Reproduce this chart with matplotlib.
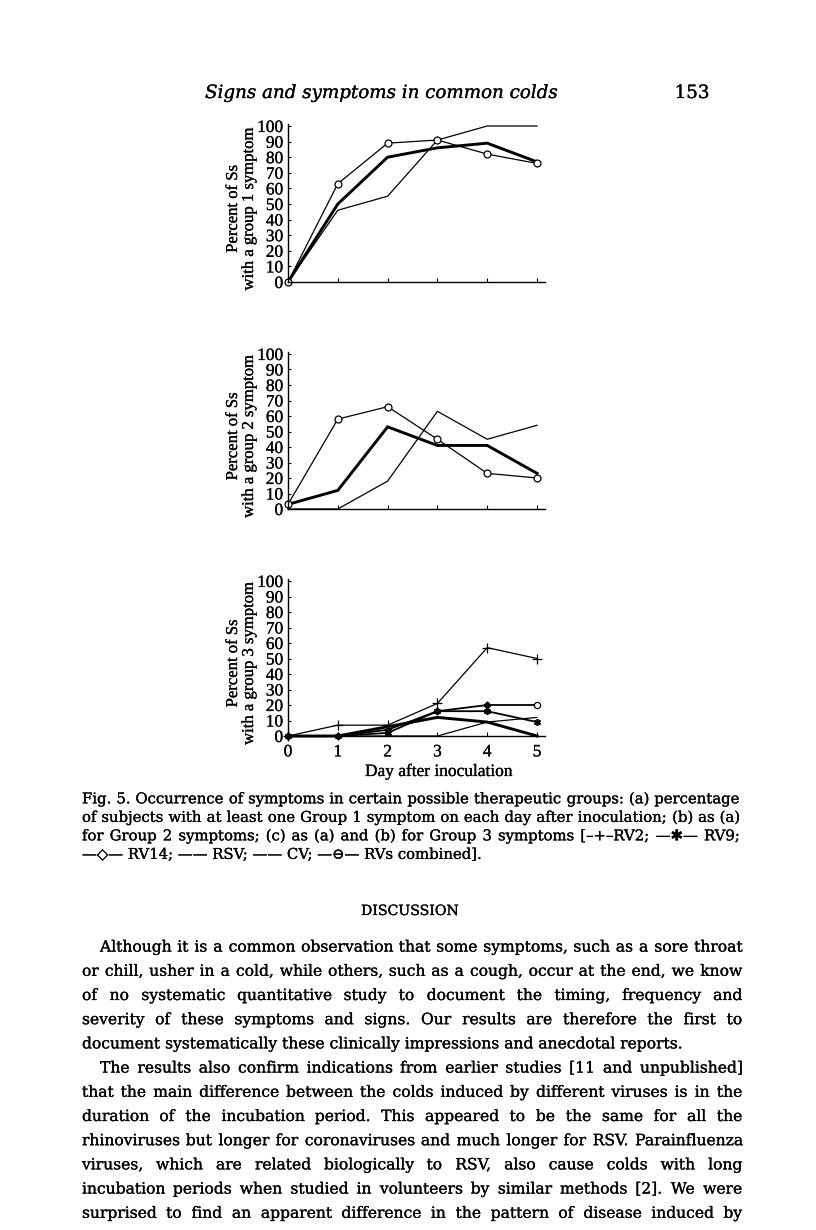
import matplotlib
matplotlib.use('Agg')
import matplotlib.pyplot as plt
import matplotlib.patheffects as pe

W, H, DPI = 816, 1230, 100
FAM = ['Liberation Serif', 'DejaVu Sans']
TFAM = ['DejaVu Serif', 'DejaVu Sans']
INK = [pe.withStroke(linewidth=0.18, foreground='black')]

# ---------------- data ----------------
days = [0, 1, 2, 3, 4, 5]
day_labels = ['0', '1', '2', '3', '4', '5']
y_ticks = [0, 10, 20, 30, 40, 50, 60, 70, 80, 90, 100]

g1_rvs = [0, 63, 89, 91, 82, 76]
g1_cv = [0, 50, 80, 86, 89, 77]
g1_rsv = [0, 46, 55, 91, 100, 100]

g2_rvs = [3, 58, 66, 45, 23, 20]
g2_cv = [3, 12, 53, 41, 41, 23]
g2_rsv = [0, 0, 18, 63, 45, 54]

g3_rv2 = [0, 7, 7, 21, 57, 50]
g3_rv9 = [0, 0, 2, 16, 16, 9]
g3_rv14 = [0, 0, 4, 16, 20, 20]
g3_rsv = [0, 0, 0, 0, 9, 12]
g3_cv = [0, 0, 6, 12, 9, 0]

ylabels = ['Percent of Ss\nwith a group 1 symptom',
           'Percent of Ss\nwith a group 2 symptom',
           'Percent of Ss\nwith a group 3 symptom']
xlabel = 'Day after inoculation'

header = 'Signs and symptoms in common colds'
page_no = '153'

caption = [
    'Fig. 5.  Occurrence of symptoms in certain possible therapeutic groups: (a) percentage',
    'of subjects with at least one Group 1 symptom on each day after inoculation; (b) as (a)',
    'for Group 2 symptoms; (c) as (a) and (b) for Group 3 symptoms [\u2013+\u2013RV2; \u2014\u2731\u2014 RV9;',
    '\u2014\u25c7\u2014 RV14; \u2014\u2014 RSV; \u2014\u2014 CV; \u2014\u2296\u2014 RVs combined].',
]
section = 'DISCUSSION'
body = [
    'Although it is a common observation that some symptoms, such as a sore throat',
    'or chill, usher in a cold, while others, such as a cough, occur at the end, we know',
    'of no systematic quantitative study to document the timing, frequency and',
    'severity of these symptoms and signs. Our results are therefore the first to',
    'document systematically these clinically impressions and anecdotal reports.',
    'The results also confirm indications from earlier studies [11 and unpublished]',
    'that the main difference between the colds induced by different viruses is in the',
    'duration of the incubation period. This appeared to be the same for all the',
    'rhinoviruses but longer for coronaviruses and much longer for RSV. Parainfluenza',
    'viruses, which are related biologically to RSV, also cause colds with long',
    'incubation periods when studied in volunteers by similar methods [2]. We were',
    'surprised to find an apparent difference in the pattern of disease induced by',
]
body_indent = [True, False, False, False, False, True, False, False, False, False, False, False]
body_just = [True, True, True, True, False, True, True, True, True, True, True, True]

# ---------------- figure ----------------
fig = plt.figure(figsize=(W / DPI, H / DPI), dpi=DPI)
fig.patch.set_facecolor('white')

XL, XR = 288, 545
XMAX = 5.16
YTOP = 101.5


def make_axes(y0, y100):
    top = y0 - (y0 - y100) * YTOP / 100.0
    ax = fig.add_axes([XL / W, 1 - y0 / H, (XR - XL) / W, (y0 - top) / H])
    ax.set_xlim(0, XMAX)
    ax.set_ylim(0, YTOP)
    for s in ['top', 'right']:
        ax.spines[s].set_visible(False)
    for s in ['left', 'bottom']:
        ax.spines[s].set_linewidth(1.0)
    ax.set_xticks(days)
    ax.set_yticks(y_ticks)
    ax.set_yticklabels([str(v) for v in y_ticks])
    ax.tick_params(axis='x', direction='in', length=3, width=0.8, pad=6)
    ax.tick_params(axis='y', direction='in', length=2, width=0.8, pad=3.5)
    for lab in ax.get_yticklabels() + ax.get_xticklabels():
        lab.set_family(FAM)
        lab.set_fontsize(12.5)
        lab.set_path_effects(INK)
    ax.patch.set_alpha(0)
    return ax


thin = dict(color='black', lw=0.9, clip_on=False, solid_joinstyle='miter')
thick = dict(color='black', lw=2.1, clip_on=False, solid_joinstyle='miter')
circ = dict(color='black', lw=0.9, marker='o', ms=5, mfc='white', mec='black', mew=0.9, clip_on=False)

panels = [(282, 126), (509, 354), (736, 581)]
axes = [make_axes(*p) for p in panels]

ax = axes[0]
ax.plot(days, g1_rsv, **thin)
ax.plot(days, g1_cv, **thick)
ax.plot(days, g1_rvs, **circ)
ax.set_xticklabels([])

ax = axes[1]
ax.plot(days, g2_rsv, **thin)
ax.plot(days, g2_cv, **thick)
ax.plot(days, g2_rvs, **circ)
ax.set_xticklabels([])

ax = axes[2]
ax.plot(days, g3_rsv, **thin)
ax.plot(days, g3_cv, **thick)
ax.plot(days, g3_rv2, color='black', lw=0.9, marker='+', ms=7, mew=0.9, clip_on=False)
ax.plot(days, g3_rv9, color='black', lw=1.3, marker=(6, 2, 0), ms=5, mew=1.2, clip_on=False)
ax.plot(days[:-1], g3_rv14[:-1], color='black', lw=1.3, marker='D', ms=3.5, mfc='black', clip_on=False)
ax.plot(days[-2:], g3_rv14[-2:], color='black', lw=1.3, clip_on=False)
ax.plot(days[-1:], g3_rv14[-1:], marker='o', ms=4.5, mfc='white', mec='black', mew=0.9,
        ls='none', clip_on=False)
ax.set_xticklabels(day_labels)
for lab in ax.get_xticklabels():
    lab.set_family(FAM)
    lab.set_fontsize(12.5)
    lab.set_path_effects(INK)

# y labels (two lines each)
for (y0, y100), lab in zip(panels, ylabels):
    yc = (y0 + y100) / 2 + 5
    fig.text(241 / W, 1 - yc / H, lab, rotation=90, ha='center', va='center',
             family=FAM, fontsize=12, linespacing=1.0, path_effects=INK)

fig.text(439 / W, 1 - 772 / H, xlabel, ha='center', va='center', family=FAM, fontsize=12.5,
         path_effects=INK)

# ---------------- page text ----------------
renderer = fig.canvas.get_renderer()


def text_width(s, fs, style='normal', fam=TFAM):
    t = fig.text(0, 0, s, fontsize=fs, family=fam, style=style)
    w = t.get_window_extent(renderer).width
    t.remove()
    return w


def space_width(fs):
    return text_width('a a', fs) - text_width('aa', fs)


def natural_width(line, fs):
    words = [w for w in line.split(' ') if w]
    return sum(text_width(w, fs) for w in words) + space_width(fs) * (len(words) - 1)


def put_line(line, x0, yc, fs, width=None):
    em = fs * DPI / 72
    base = yc + 0.36 * em
    if width is None:
        fig.text(x0 / W, 1 - base / H, line, fontsize=fs, family=TFAM, va='baseline', ha='left',
                 path_effects=INK)
        return
    words = [w for w in line.split(' ') if w != '']
    ws = [text_width(w, fs) for w in words]
    gap = (width - sum(ws)) / max(len(words) - 1, 1)
    x = x0
    for w, wd in zip(words, ws):
        fig.text(x / W, 1 - base / H, w, fontsize=fs, family=TFAM, va='baseline', ha='left',
                 path_effects=INK)
        x += wd + gap


# header
hfs = 10 * 352 / text_width(header, 10, 'italic')
fig.text(381 / W, 1 - 93 / H, header, fontsize=hfs, family=TFAM, style='italic',
         ha='center', va='center', path_effects=INK)
fig.text(692 / W, 1 - 93 / H, page_no, fontsize=hfs, family=TFAM, ha='center', va='center',
         path_effects=INK)

# caption
CL, CR = 82, 740
cw = max(natural_width(l, 10) for l in caption[:3])
cfs = 10 * (CR - CL) * 0.995 / cw
for i, line in enumerate(caption):
    put_line(line, CL, 798 + i * 18.5, cfs, (CR - CL) if i < 3 else None)

# section heading
fig.text(410 / W, 1 - 911 / H, section, fontsize=cfs * 0.95, family=TFAM, ha='center', va='center',
         path_effects=INK)

# body
BL, BR, IND = 82, 742, 18
bw = max(natural_width(l, 10) for l, j in zip(body, body_just) if j)
bfs = 10 * (BR - BL) * 0.985 / bw
for i, (line, ind, j) in enumerate(zip(body, body_indent, body_just)):
    x0 = BL + (IND if ind else 0)
    put_line(line, x0, 946 + i * 24.2, bfs, (BR - x0) if j else None)

fig.savefig('out.png', dpi=DPI, facecolor='white')
